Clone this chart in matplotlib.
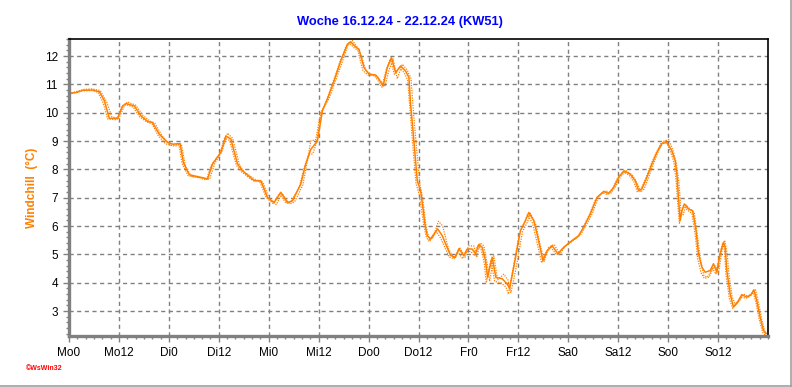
import matplotlib
matplotlib.use('Agg')
import matplotlib.pyplot as plt
from matplotlib.ticker import MultipleLocator
from matplotlib.lines import Line2D

# hours since Monday 00:00, windchill in deg C
hours = [0, 2, 3.3, 5.7, 7.3, 8.5, 9.7, 11.7, 12.9, 13.7, 15.7, 17.3, 18.9, 20.1, 21.7, 23.7,
         24.9, 26.7, 27.5, 28.9, 31.7, 33.3, 34.5, 36.5, 37.7, 38.9, 40.5, 41.7, 44.5, 46.1,
         47.7, 49.3, 50.9, 52.5, 53.7, 55.7, 56.9, 58.1, 59.7, 60.9, 62.1, 63.7, 65.3, 66.9,
         67.7, 68.9, 69.7, 70.9, 72.1, 73.7, 74.5, 75.5, 76.5, 77.5, 78.5, 79.7, 80.9, 81.7,
         82.1, 82.9, 83.7, 84.5, 85.1, 85.5, 86.1, 86.9, 88.6, 89.7, 91.7, 92.9, 93.7, 94.9,
         95.7, 96.9, 97.7, 98.5, 99.3, 100.1, 100.6, 101.7, 102.6, 104.1, 105.3, 105.9, 106.9,
         108.5, 109.7, 110.5, 111.7, 112.5, 113.9, 114.9, 116.1, 117.5, 118.9, 120.9, 122.5,
         123.7, 125.3, 126.9, 128.5, 129.7, 130.9, 132.1, 133.4, 134.9, 136.1, 136.9, 137.7,
         138.9, 140.1, 141.3, 142.5, 143.7, 144.9, 145.7, 146.1, 146.5, 146.9, 147.3, 147.9,
         148.9, 149.9, 150.7, 151.3, 152.1, 152.9, 154.1, 154.9, 155.7, 156.5, 157.3, 157.7,
         158.1, 158.9, 159.7, 160.9, 161.7, 162.9, 164.1, 164.6, 165.3, 166.1, 166.9, 167.5]
windchill = [10.67, 10.72, 10.79, 10.8, 10.74, 10.42, 9.8, 9.8, 10.24, 10.32, 10.24, 9.89, 9.69,
             9.65, 9.24, 8.95, 8.89, 8.91, 8.24, 7.81, 7.72, 7.66, 8.19, 8.6, 9.18, 9.07, 8.19,
             7.95, 7.6, 7.6, 7.01, 6.83, 7.19, 6.83, 6.89, 7.48, 8.19, 8.7, 9.0, 10.06, 10.48,
             11.12, 11.82, 12.41, 12.5, 12.32, 12.24, 11.59, 11.36, 11.33, 11.18, 10.94, 11.59,
             11.94, 11.41, 11.65, 11.47, 11.24, 10.3, 9.0, 7.6, 7.25, 6.6, 6.1, 5.66, 5.55, 5.9,
             5.66, 4.96, 4.9, 5.19, 4.96, 5.19, 5.19, 5.02, 5.35, 5.25, 4.78, 4.19, 4.9, 4.19,
             4.14, 3.96, 3.79, 4.55, 5.84, 6.19, 6.48, 6.19, 5.72, 4.78, 5.13, 5.31, 5.02, 5.25,
             5.49, 5.66, 5.96, 6.43, 7.01, 7.22, 7.15, 7.36, 7.72, 7.95, 7.83, 7.6, 7.25, 7.31,
             7.72, 8.19, 8.6, 8.91, 8.95, 8.65, 8.3, 7.83, 6.95, 6.19, 6.54, 6.78, 6.6, 6.54,
             5.84, 5.02, 4.55, 4.37, 4.43, 4.67, 4.37, 5.02, 5.43, 5.25, 4.43, 3.61, 3.14, 3.37,
             3.58, 3.49, 3.61, 3.75, 3.37, 2.79, 2.32, 2.2]

# the two dotted companion curves
hours_a = [0, 3.5, 5.5, 7.5, 9, 10.3, 12, 13.2, 14, 16, 17.8, 19.5, 20.6, 22.3, 24.3, 25.5, 27,
           28, 29.4, 32, 33.8, 35, 36.8, 38.1, 39.3, 41, 42.2, 45, 46.6, 48.2, 49.8, 51.2, 53,
           54.2, 56.2, 57.3, 58.1, 59.3, 60.5, 62.5, 64, 65.7, 67.2, 68.1, 69.3, 70.3, 71.3,
           72.5, 74, 75.9, 76.9, 77.9, 78.9, 80.1, 81.3, 82.2, 82.8, 83.5, 84.3, 85, 85.8, 86.6,
           87.5, 88.8, 89.8, 91.2, 92.5, 93.9, 95.2, 96, 97.3, 98, 98.8, 99.7, 100.6, 101.1,
           102.1, 103, 104.5, 105.5, 106.2, 107.3, 109, 110.2, 110.9, 112.1, 113, 114.2, 115.3,
           116.6, 118, 119.3, 121.3, 123, 124.2, 125.8, 127.3, 129, 130.2, 131.4, 132.6, 133.9,
           135.4, 136.6, 137.4, 138.2, 139.4, 140.6, 141.8, 143, 144.2, 145.3, 146, 146.6, 147.1,
           147.6, 148.3, 149.3, 150.3, 151.1, 151.8, 152.6, 153.4, 154.5, 155.3, 156.1, 156.9,
           157.6, 158.2, 158.6, 159.4, 160.2, 161.3, 162.2, 163.4, 164.5, 165.0, 165.7, 166.5,
           167.3, 167.8]
values_a = [10.67, 10.82, 10.84, 10.78, 10.4, 9.85, 9.8, 10.2, 10.38, 10.27, 9.9, 9.7, 9.64, 9.2,
            8.85, 8.82, 8.9, 8.1, 7.75, 7.7, 7.65, 8.2, 8.65, 9.28, 9.1, 8.15, 7.9, 7.62, 7.55,
            6.95, 6.75, 7.15, 6.78, 6.85, 7.45, 8.3, 9.0, 9.05, 10.0, 10.5, 11.1, 11.8, 12.45,
            12.55, 12.3, 12.0, 11.5, 11.35, 11.3, 10.92, 11.5, 11.9, 11.2, 11.71, 11.5, 11.2,
            10.0, 8.8, 7.5, 7.0, 6.0, 5.5, 5.6, 6.17, 6.0, 5.2, 4.85, 5.25, 4.9, 5.3, 5.3, 4.9,
            5.4, 5.3, 4.6, 4.05, 4.95, 4.1, 4.3, 4.1, 3.65, 4.4, 5.8, 6.15, 6.45, 6.1, 5.5, 4.75,
            5.25, 5.35, 5.0, 5.3, 5.5, 5.7, 6.0, 6.45, 7.05, 7.25, 7.15, 7.4, 7.75, 7.95, 7.8,
            7.5, 7.2, 7.3, 7.75, 8.25, 8.7, 9.0, 9.05, 8.6, 8.2, 7.5, 6.5, 6.4, 6.75, 6.6, 6.45,
            5.6, 4.8, 4.25, 4.2, 4.45, 4.6, 4.35, 5.1, 5.5, 5.0, 4.3, 3.5, 3.2, 3.4, 3.6, 3.5,
            3.7, 3.75, 3.3, 2.7, 2.25, 2.2]

hours_b = [0, 3, 5.5, 7, 8.2, 9.3, 11.5, 12.6, 13.4, 15.4, 17, 18.6, 20, 21.4, 23.2, 24.6, 26.4,
           27.2, 28.6, 31.4, 33, 34.2, 36.2, 37.4, 38.6, 40.2, 41.4, 44.2, 45.8, 47.4, 49, 50.6,
           52.2, 53.4, 55.4, 56.6, 57.6, 58.6, 59.5, 60.6, 61.8, 63.4, 65, 66.6, 67.4, 68.6,
           69.4, 70.6, 71.8, 73.4, 74.2, 75.2, 76.2, 77.2, 78.2, 79.4, 80.6, 81.4, 81.9, 82.6,
           83.4, 84.2, 84.8, 85.3, 85.9, 86.6, 88.3, 89.4, 91.4, 92.6, 93.4, 94.6, 95.4, 96.6,
           97.4, 98.2, 99, 99.8, 100.3, 101.4, 102.3, 103.8, 105, 105.6, 106.6, 108.2, 109.4,
           110.2, 111.4, 112.2, 113.6, 114.6, 115.8, 117.2, 118.6, 120.6, 122.2, 123.4, 125,
           126.6, 128.2, 129.4, 130.6, 131.8, 133.1, 134.6, 135.8, 136.6, 137.4, 138.6, 139.8,
           141, 142.2, 143.4, 144.6, 145.4, 145.9, 146.3, 146.7, 147.1, 147.7, 148.7, 149.7,
           150.5, 151.1, 151.9, 152.7, 153.9, 154.7, 155.5, 156.3, 157.1, 157.5, 157.9, 158.7,
           159.5, 160.7, 161.5, 162.7, 163.9, 164.4, 165.1, 165.9, 166.7, 167.3]
values_b = [10.67, 10.77, 10.78, 10.72, 10.35, 9.78, 9.75, 10.2, 10.3, 10.2, 9.85, 9.68, 9.6,
            9.2, 8.9, 8.85, 8.88, 8.2, 7.78, 7.7, 7.62, 8.15, 8.55, 9.1, 9.02, 8.15, 7.92, 7.6,
            7.58, 7.0, 6.8, 7.15, 6.8, 6.86, 7.4, 8.1, 8.5, 8.55, 8.95, 10.0, 10.4, 11.05, 11.75,
            12.35, 12.45, 12.28, 12.2, 11.5, 11.33, 11.3, 11.15, 10.9, 11.5, 11.9, 11.35, 11.6,
            11.4, 11.15, 10.2, 8.9, 7.5, 7.1, 6.5, 6.0, 5.6, 5.45, 5.8, 5.55, 4.9, 4.85, 5.1,
            4.85, 5.1, 5.1, 4.95, 5.3, 5.2, 4.7, 4.0, 4.8, 4.05, 4.0, 3.85, 3.6, 4.4, 5.7, 6.1,
            6.4, 6.1, 5.6, 4.7, 5.05, 5.25, 4.98, 5.2, 5.45, 5.6, 5.9, 6.38, 6.95, 7.18, 7.1, 7.3,
            7.68, 7.92, 7.8, 7.55, 7.2, 7.28, 7.68, 8.15, 8.55, 8.9, 9.0, 8.62, 8.25, 7.6, 6.8,
            6.1, 6.45, 6.72, 6.55, 6.45, 5.7, 4.85, 4.35, 4.15, 4.2, 4.5, 4.3, 4.95, 5.4, 5.2,
            4.3, 3.45, 3.1, 3.3, 3.5, 3.45, 3.55, 3.7, 3.3, 2.7, 2.25, 2.15]

tick_hours = [0, 12, 24, 36, 48, 60, 72, 84, 96, 108, 120, 132, 144, 156]
tick_labels = ['Mo0', 'Mo12', 'Di0', 'Di12', 'Mi0', 'Mi12', 'Do0', 'Do12',
               'Fr0', 'Fr12', 'Sa0', 'Sa12', 'So0', 'So12']

ORANGE = '#FF8000'
GRAY = '#808080'

plt.rcParams['font.family'] = ['Liberation Sans', 'DejaVu Sans']

fig = plt.figure(figsize=(7.92, 3.87), dpi=100)
ax = fig.add_axes([69/792, 51/387, 699/792, 297/387])

ax.plot(hours_a, values_a, color=ORANGE, lw=0.9, ls=(0, (1, 1)))
ax.plot(hours_b, values_b, color=ORANGE, lw=0.9, ls=(0, (1, 1)))
ax.plot(hours, windchill, color=ORANGE, lw=1.1)

ax.set_xlim(0, 168)
ax.set_ylim(2.12, 12.6)
ax.set_xticks(tick_hours)
ax.set_xticklabels(tick_labels)
ax.xaxis.set_minor_locator(MultipleLocator(2))
ax.set_yticks(range(3, 13))
ax.yaxis.set_minor_locator(MultipleLocator(0.2))

ax.grid(True, which='major', color=GRAY, ls=(0, (3, 2.5)), lw=1.0)
ax.tick_params(axis='both', which='major', labelsize=8.5, color=GRAY, width=1, length=4,
               direction='out')
ax.tick_params(axis='both', which='minor', color=GRAY, width=1, length=2.5, direction='out')
ax.tick_params(axis='x', pad=4)
ax.tick_params(axis='y', pad=4)

for side in ['left', 'bottom']:
    ax.spines[side].set_color(GRAY)
    ax.spines[side].set_linewidth(2.4)
for side in ['top', 'right']:
    ax.spines[side].set_color('black')
    ax.spines[side].set_linewidth(1.2)

fig.text(400/792, 1 - 22/387, 'Woche 16.12.24 - 22.12.24 (KW51)', color='#0000FF',
         fontsize=9.3, fontweight='bold', ha='center', va='center')
fig.text(32/792, 1 - 188/387, 'Windchill  (°C)', color=ORANGE, fontsize=8.5,
         fontweight='bold', rotation=90, ha='center', va='center')
fig.text(26/792, 1 - 368/387, '©WsWin32', color='red', fontsize=5, fontweight='bold',
         ha='left', va='center')

# thin grey frame on the right and bottom edge of the picture
fig.add_artist(Line2D([790.5/792, 790.5/792], [1.5/387, 1], color='#A0A0A0', lw=1.2))
fig.add_artist(Line2D([0, 790.5/792], [1.5/387, 1.5/387], color='#A0A0A0', lw=1.2))

fig.savefig('out.png', dpi=100, facecolor='white')
